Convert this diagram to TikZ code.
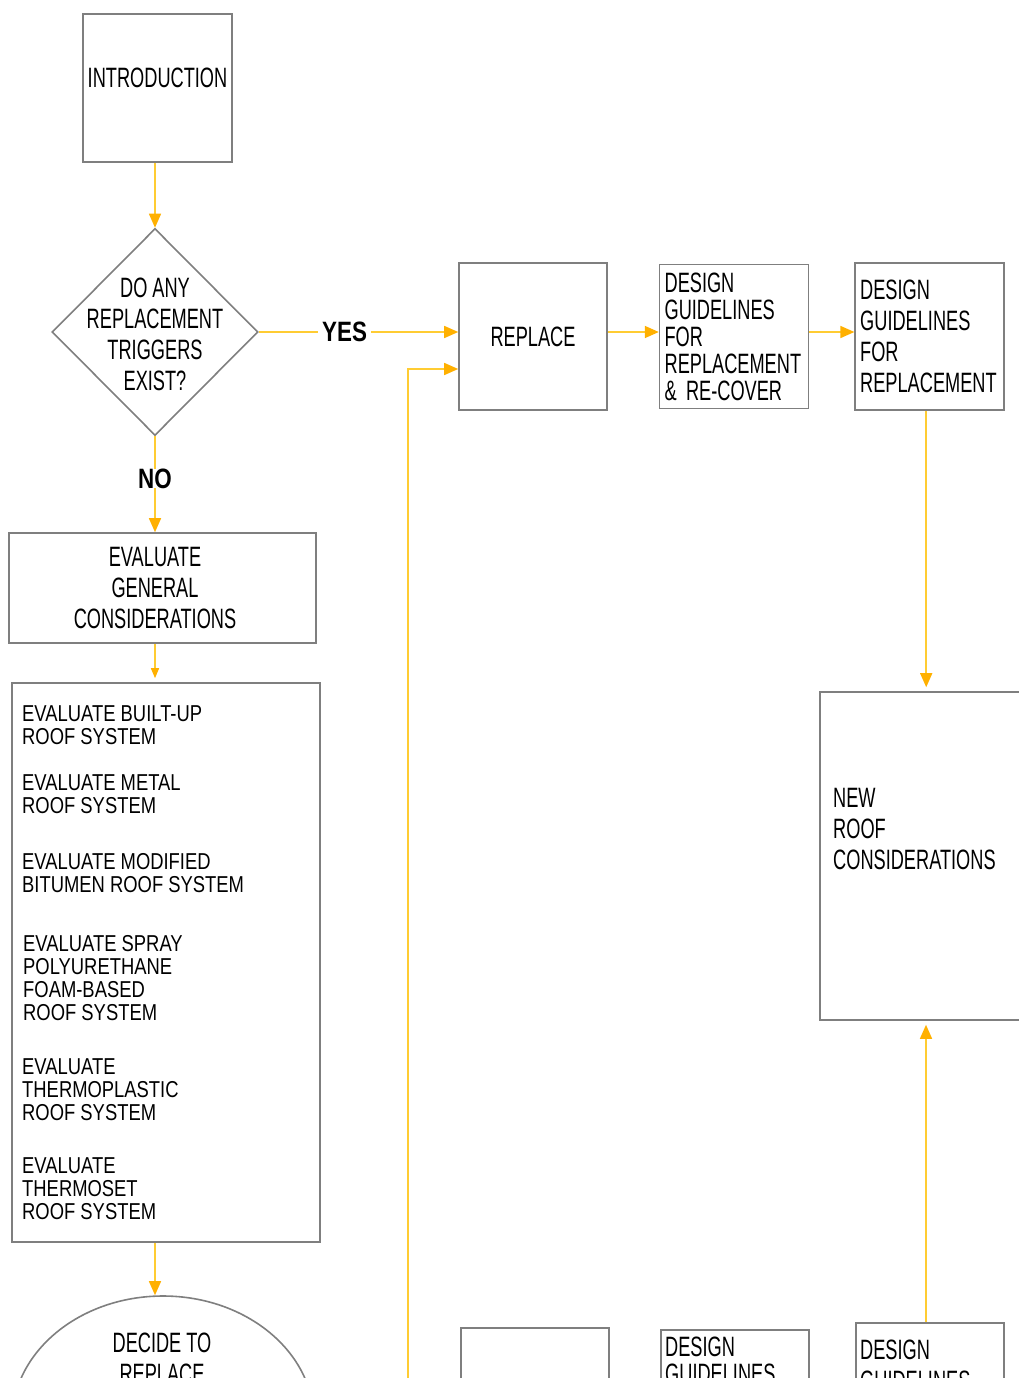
\documentclass[tikz,border=0pt]{standalone}
\usepackage{fontspec}
\setmainfont[FakeStretch=0.65]{Liberation Sans}
\newfontfamily\listfont[FakeStretch=0.8]{Liberation Sans}
\usetikzlibrary{shapes.geometric, arrows.meta, positioning}
\definecolor{boxgray}{HTML}{7F7F7F}
\definecolor{flowline}{HTML}{FFCC33}
\definecolor{flowtip}{HTML}{FFB000}
\newcommand{\designguide}{DESIGN\\GUIDELINES}
\newcommand{\roofsys}{ROOF SYSTEM}

\begin{document}
\begin{tikzpicture}[
        x=1pt, y=-1pt,
        every node/.style={text=black, inner sep=0pt},
        box/.style={draw=boxgray, line width=1.6pt},
        big/.style={font=\fontsize{28}{31}\selectfont},
        small/.style={font=\listfont\fontsize{23}{23}\selectfont},
        answer/.style={font=\listfont\bfseries\fontsize{28}{28}\selectfont, fill=white, inner xsep=4pt},
        flow/.style={draw=flowline, line width=1.5pt, -{Triangle[length=14pt, width=12pt, color=flowtip]}}]
        \useasboundingbox (0,0) rectangle (1019,1378);
        \clip (0,0) rectangle (1019,1378);
        % Boxes
        \node[box, minimum width=149pt, minimum height=148pt] (intro) at (157.5,88) {};
        \node[big] (intro_text) at (157.5,78) {INTRODUCTION};
        
        \node[box, diamond, aspect=1, minimum width=206pt, minimum height=207pt] (triggers) at (155,332) {};
        \node[big, align=center] (triggers_text) at (155,334.5) {DO ANY\\REPLACEMENT\\TRIGGERS\\EXIST?};
        
        \node[box, minimum width=307pt, minimum height=110pt] (eval_general) at (162.5,588) {};
        \node[big, align=center] (eval_general_text) at (155,588) {EVALUATE\\GENERAL\\CONSIDERATIONS};
        
        \node[box, minimum width=308pt, minimum height=559pt] (eval_systems) at (166,962.5) {};
        \node[small, align=left, anchor=west] (eval_bur) at (22,725.5) {EVALUATE BUILT-UP\\\roofsys};
        \node[small, align=left, anchor=west] (eval_metal) at (22,794.5) {EVALUATE METAL\\\roofsys};
        \node[small, align=left, anchor=west] (eval_modbit) at (22,873) {EVALUATE MODIFIED\\BITUMEN \roofsys};
        \node[small, align=left, anchor=west] (eval_spf) at (23,978) {EVALUATE SPRAY\\POLYURETHANE\\FOAM-BASED\\\roofsys};
        \node[small, align=left, anchor=west] (eval_tpo) at (22,1089.5) {EVALUATE\\THERMOPLASTIC\\\roofsys};
        \node[small, align=left, anchor=west] (eval_tset) at (22,1189) {EVALUATE\\THERMOSET\\\roofsys};
        
        \node[box, ellipse, minimum width=302pt, minimum height=250pt] (decide) at (163,1421) {};
        \node[big, align=center] (decide_text) at (162,1358.5) {DECIDE TO\\REPLACE};
        
        \node[box, big, minimum width=148pt, minimum height=147pt] (replace) at (533,336.5) {REPLACE};
        \node[box, big, font=\fontsize{28}{27}\selectfont, text width=139pt, inner xsep=5pt, align=left,
              minimum height=144pt, right=51pt of replace] (guide_recover) {\designguide\\FOR\\REPLACEMENT\\\& RE-COVER};
        \node[box, big, text width=139pt, inner xsep=5pt, align=left,
              minimum height=147pt, right=45pt of guide_recover] (guide_replace) {\designguide\\FOR\\REPLACEMENT};
        
        \node[box, minimum width=215pt, minimum height=328pt] (new_roof) at (927.5,856) {};
        \node[big, align=left, anchor=west] (new_roof_text) at (833,829) {NEW\\ROOF\\CONSIDERATIONS};
        
        \node[box, minimum width=148pt, minimum height=147pt] (bottom_a) at (535,1401.5) {};
        \node[box, minimum width=148pt, minimum height=147pt] (bottom_b) at (735,1403.5) {};
        \node[big, font=\fontsize{28}{27}\selectfont, align=left, anchor=west] (bottom_b_text) at (665,1360.5) {\designguide};
        \node[box, minimum width=148pt, minimum height=147pt] (bottom_c) at (930,1396.5) {};
        \node[big, align=left, anchor=west] (bottom_c_text) at (860,1365.5) {\designguide};
        
        \coordinate (loop_back) at (408,1400);
        % Edges
        \draw[flow] (triggers.north |- intro.south) -- (triggers.north);
        \draw[flow] (triggers.east) -- (triggers.east -| replace.west) node[pos=0.43, answer] (yes) {YES};
        \draw[flow] (triggers.south) -- (triggers.south |- eval_general.north) node[pos=0.44, answer] (no) {NO};
        \draw[flow, -{Triangle[length=10pt, width=8pt, color=flowtip]}, shorten >=4pt] (triggers.south |- eval_general.south) -- (triggers.south |- eval_systems.north);
        \draw[flow] (triggers.south |- eval_systems.south) -- (triggers.south |- decide.north);
        
        \draw[flow] ([yshift=4.5pt]replace.east) -- ([yshift=4.5pt]replace.east -| guide_recover.west);
        \draw[flow] ([yshift=4.5pt]guide_recover.east) -- ([yshift=4.5pt]guide_recover.east -| guide_replace.west);
        \draw[flow, shorten >=4pt] ([xshift=-3.5pt]guide_replace.south) -- ([xshift=-3.5pt]guide_replace.south |- new_roof.north);
        \draw[flow, shorten >=4pt] ([xshift=-4pt]bottom_c.north) -- ([xshift=-4pt]bottom_c.north |- new_roof.south);
        \draw[flow] (loop_back) |- ([yshift=-32.5pt]replace.west);
\end{tikzpicture}
\end{document}
